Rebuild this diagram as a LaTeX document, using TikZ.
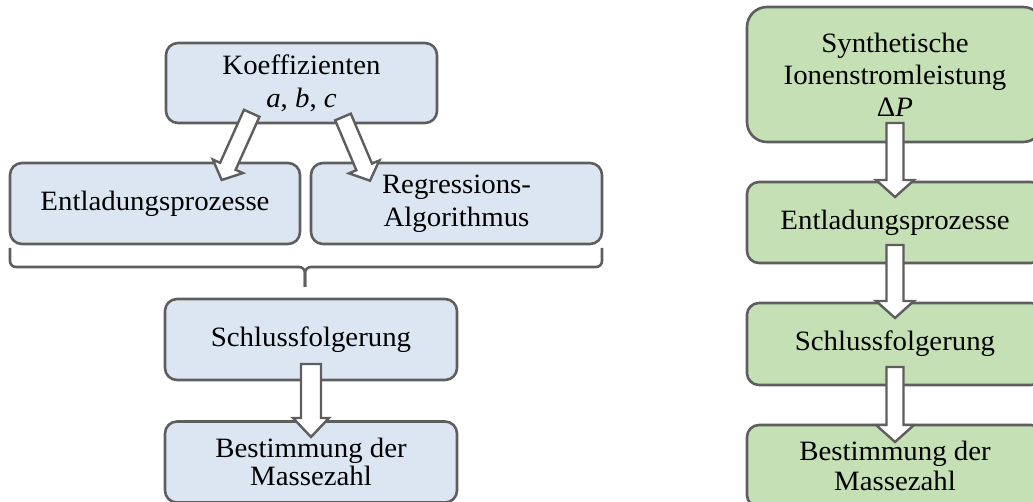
\documentclass[tikz,border=0pt]{standalone}
\usepackage{fontspec}
\setmainfont[FakeStretch=1.03]{Liberation Serif}
\usetikzlibrary{calc}

\definecolor{edgegray}{HTML}{5E5E5E}
\definecolor{bluefill}{HTML}{DCE6F2}
\definecolor{greenfill}{HTML}{C5E0B4}

\tikzset{
  box/.style={draw=edgegray, line width=2.6pt, rounded corners=12pt,
    minimum width=#1, inner sep=0pt, align=center,
    font=\fontsize{28}{33}\selectfont},
  bluebox/.style={box=#1, fill=bluefill},
  greenbox/.style={box=#1, fill=greenfill},
  barrow/.style={draw=edgegray, line width=2.4pt, fill=white, line join=miter},
  bracket/.style={draw=edgegray, line width=2.6pt, rounded corners=6pt},
}

% hollow block arrow: tail, tip, shaft half width, head half width, head length
\newcommand\blockarrow[5]{%
  \coordinate (hb) at ($(#2)!#5!(#1)$);
  \draw[barrow] ($(#1)!#3!90:(#2)$) -- ($(hb)!#3!90:(#2)$)
    -- ($(hb)!#4!90:(#2)$) -- (#2) -- ($(hb)!#4!-90:(#2)$)
    -- ($(hb)!#3!-90:(#2)$) -- ($(#1)!#3!-90:(#2)$) -- cycle;
}

\begin{document}
\begin{tikzpicture}[x=1pt, y=-1pt]
  \useasboundingbox (0,0) rectangle (1033,502);
  \clip (0,0) rectangle (1033,502);

  % left column
  \node[bluebox=271pt, minimum height=80pt] (koef) at (301.5,83)
    {Koeffizienten\\\textit{a}, \textit{b}, \textit{c}};
  \node[bluebox=290pt, minimum height=81pt] (ent) at (155,203.5)
    {Entladungsprozesse};
  \node[bluebox=291pt, minimum height=81pt] (reg) at (456.5,203.5)
    {Regressions-\\Algorithmus};
  \node[bluebox=292pt, minimum height=81pt] (schl) at (311,339.5)
    {Schlussfolgerung};
  \node[bluebox=292pt, minimum height=81pt,
        font=\fontsize{28}{28}\selectfont] (best) at (311,462)
    {Bestimmung der\\Massezahl};

  % bracket gathering the two middle boxes
  \coordinate (brl) at (10,248);
  \coordinate (brr) at (602,248);
  \coordinate (brm) at (305,267);
  \coordinate (brt) at (305,287);
  \draw[bracket] (brl) |- (brm) -- (brt);
  \draw[bracket] (brr) |- (brm) -- (brt);

  % right column
  \node[greenbox=296pt, minimum height=135pt, rounded corners=20pt,
        font=\fontsize{28}{32}\selectfont] (syn) at (895,74.5)
    {Synthetische\\Ionenstromleistung\\Δ\textit{P}};
  \node[greenbox=296pt, minimum height=81pt] (ent2) at (895,222.5)
    {Entladungsprozesse};
  \node[greenbox=296pt, minimum height=82pt] (schl2) at (895,344)
    {Schlussfolgerung};
  \node[greenbox=296pt, minimum height=82pt,
        font=\fontsize{28}{30}\selectfont] (best2) at (895,466)
    {Bestimmung der\\Massezahl};

  % arrow end points
  \coordinate (k1) at (251.7,113.3);
  \coordinate (e1) at (221.7,180);
  \coordinate (k2) at (343,117);
  \coordinate (r2) at (370,180.7);
  \coordinate (s1) at (311,364);
  \coordinate (b1) at (311,437);
  \coordinate (y0) at (895,123);
  \coordinate (y1) at (895,197);
  \coordinate (n0) at (895,245);
  \coordinate (n1) at (895,318);
  \coordinate (c0) at (895,367);
  \coordinate (c1) at (895,442);

  \blockarrow{k1}{e1}{8.5pt}{16.5pt}{15pt}
  \blockarrow{k2}{r2}{8.5pt}{16.5pt}{15pt}
  \blockarrow{s1}{b1}{10pt}{18pt}{19pt}
  \blockarrow{y0}{y1}{8.5pt}{19pt}{17pt}
  \blockarrow{n0}{n1}{8.5pt}{19pt}{17pt}
  \blockarrow{c0}{c1}{8.5pt}{19pt}{17pt}
\end{tikzpicture}
\end{document}
